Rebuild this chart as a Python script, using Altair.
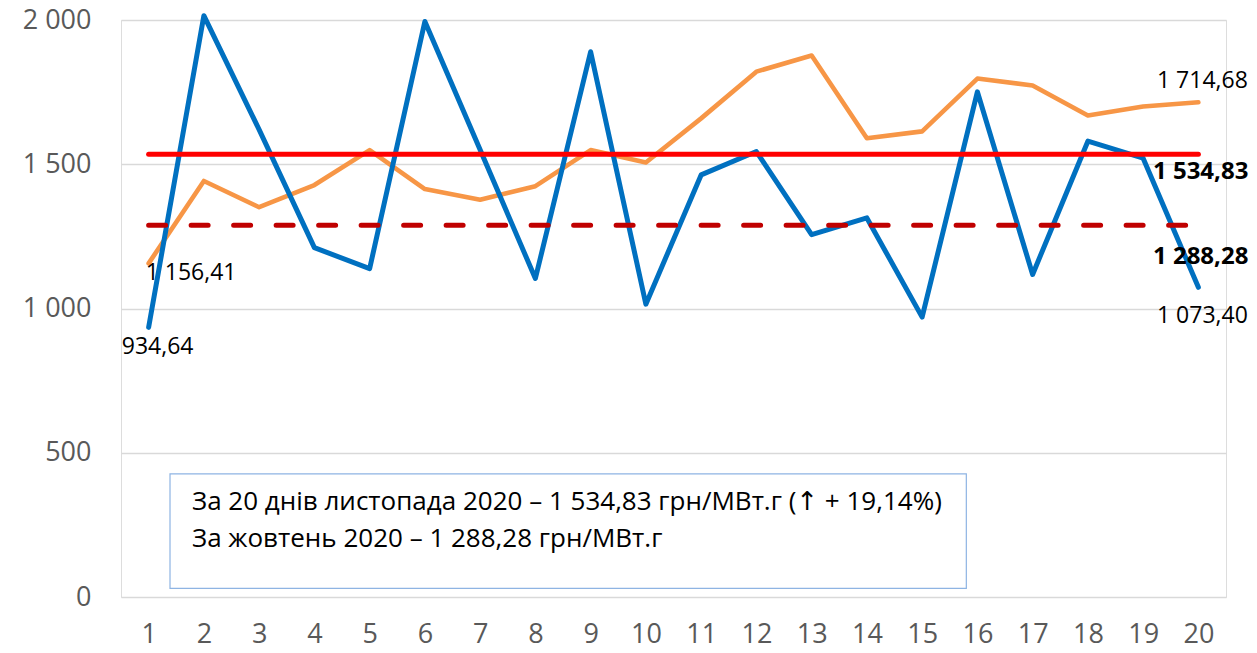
import altair as alt
import pandas as pd

days = list(range(1, 21))
november = [934.64, 2015, 1620, 1211, 1138, 1995, 1550, 1104, 1890, 1015,
            1463, 1544, 1256, 1314, 970, 1751, 1118, 1580, 1521, 1073.40]
october = [1156.41, 1442, 1351, 1428, 1549, 1414, 1377, 1424, 1549, 1506,
           1659, 1821, 1877, 1590, 1614, 1797, 1773, 1669, 1700, 1714.68]
avg_nov = 1534.83
avg_oct = 1288.28
y_ticks = [0, 500, 1000, 1500, 2000]
note_lines = ["За 20 днів листопада 2020 – 1 534,83 грн/МВт.г (↑ + 19,14%)",
              "За жовтень 2020 – 1 288,28 грн/МВт.г"]

FONT = "Open Sans"
NOTE_FONT = "'Open Sans', 'DejaVu Sans', sans-serif"

df = pd.DataFrame({"day": days, "nov": november, "oct": october})

xs = alt.Scale(domain=[0.5, 20.5], nice=False, zero=False)
ys = alt.Scale(domain=[0, 2000], nice=False)

X = alt.X("day:Q", scale=xs,
          axis=alt.Axis(values=days, format="d", title=None, grid=False, ticks=False,
                        domain=False, labelFontSize=27, labelColor="#595959",
                        labelFont=FONT, labelPadding=24, labelFlush=False))
Y_axis = alt.Axis(values=y_ticks, title=None, ticks=False, domain=False,
                  labelFontSize=27, labelColor="#595959", labelFont=FONT,
                  labelPadding=30, gridColor="#D9D9D9", gridWidth=1.3,
                  labelExpr="replace(format(datum.value, ','), ',', ' ')")

base = alt.Chart(df)

grid = base.mark_point(opacity=0).encode(
    x=X, y=alt.Y("nov:Q", scale=ys, axis=Y_axis))

line_oct = base.mark_line(color="#F79646", strokeWidth=4.6, strokeJoin="round",
                          strokeCap="round").encode(
    x=alt.X("day:Q", scale=xs), y=alt.Y("oct:Q", scale=ys))
line_nov = base.mark_line(color="#0070C0", strokeWidth=5, strokeJoin="round",
                          strokeCap="round").encode(
    x=alt.X("day:Q", scale=xs), y=alt.Y("nov:Q", scale=ys))

avg_df = pd.DataFrame({"x1": [days[0]], "x2": [days[-1]], "nov": [avg_nov], "oct": [avg_oct]})
rule_oct = alt.Chart(avg_df).mark_rule(color="#C00000", strokeWidth=5, strokeCap="round",
                                       strokeDash=[17, 25.5]).encode(
    x=alt.X("x1:Q", scale=xs), x2="x2:Q", y=alt.Y("oct:Q", scale=ys))
rule_nov = alt.Chart(avg_df).mark_rule(color="#FF0000", strokeWidth=5, strokeCap="round").encode(
    x=alt.X("x1:Q", scale=xs), x2="x2:Q", y=alt.Y("nov:Q", scale=ys))

def fmt(v):
    return f"{v:,.2f}".replace(",", " ").replace(".", ",")

def label(xv, yv, align, dx, dy, bold=False, size=23):
    d = pd.DataFrame({"x": [xv], "y": [yv], "t": [fmt(yv)]})
    return alt.Chart(d).mark_text(align=align, baseline="middle", dx=dx, dy=dy,
                                  font=FONT, fontSize=size, color="#000000",
                                  fontWeight="bold" if bold else "normal").encode(
        x=alt.X("x:Q", scale=xs), y=alt.Y("y:Q", scale=ys), text="t:N")

labels = [
    label(days[0], october[0], "left", -3, 10),
    label(days[0], november[0], "center", 9, 20),
    label(days[-1], october[-1], "center", 4, -21),
    label(days[-1], november[-1], "center", 4, 29),
    label(days[-1], avg_nov, "right", 50, 18, True, 24),
    label(days[-1], avg_oct, "right", 50, 32, True, 24),
]

# annotation box (in data units)
box_df = pd.DataFrame({"x1": [1.387], "x2": [15.8], "y1": [427], "y2": [30]})
box = alt.Chart(box_df).mark_rect(fill="white", stroke="#8EB4E3", strokeWidth=1.2).encode(
    x=alt.X("x1:Q", scale=xs), x2="x2:Q", y=alt.Y("y1:Q", scale=ys), y2="y2:Q")

note_df = pd.DataFrame({"x": [1.785, 1.785], "y": [329, 202], "t": note_lines})
note = alt.Chart(note_df).mark_text(align="left", baseline="middle", font=NOTE_FONT,
                                    fontSize=26, color="#000000").encode(
    x=alt.X("x:Q", scale=xs), y=alt.Y("y:Q", scale=ys), text="t:N")

chart = alt.layer(grid, box, note, line_oct, line_nov, rule_oct, rule_nov, *labels).properties(
    width=1105, height=577,
    autosize=alt.AutoSizeParams(type="none"),
    padding={"left": 113, "top": 12, "right": 23, "bottom": 55},
).configure_view(stroke=None).configure(background="white")

chart.save("out.html", embed_options={"renderer": "svg", "actions": False})
